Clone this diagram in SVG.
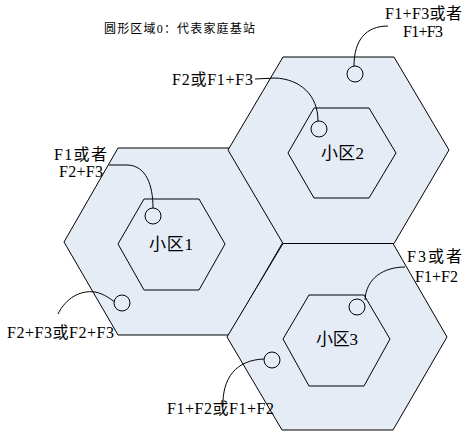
<svg xmlns="http://www.w3.org/2000/svg" width="463" height="432" viewBox="0 0 463 432">
<style>
.hex{fill:#E6ECF6;stroke:#000;stroke-width:1}
.inner{fill:#E6ECF6;stroke:#000;stroke-width:1}
.dot{fill:#E6ECF6;stroke:#000;stroke-width:1}
.con{fill:none;stroke:#000;stroke-width:1}
text{font-family:"Liberation Serif","Noto Sans CJK SC",serif;font-size:16px;fill:#000}
.title{font-size:12px}
.cell{font-size:17px}
</style>
<rect width="463" height="432" fill="#fff"/>
<g id="cell1">
<polygon class="hex" points="118,148 229,148 283,242 229,335 118,335 64,242"/>
<polygon class="inner" points="144,199 199,199 225,244 199,290 144,290 118,244"/>
<text x="149" y="250" textLength="44" class="cell">小区1</text>
</g>
<g id="cell2">
<polygon class="hex" points="283,57 394,57 449,150 394,243.5 283,243.5 228,150"/>
<polygon class="inner" points="314,108 369,108 396,153 369,198 314,198 288,153"/>
<text x="321" y="159" textLength="43" class="cell">小区2</text>
</g>
<g id="cell3">
<polygon class="hex" points="283,243.5 393,243.5 447,337 393,430 282,430 227,337"/>
<polygon class="inner" points="309,295 364,295 390,339 364,386 309,386 283,339"/>
<text x="316" y="345" textLength="42" class="cell">小区3</text>
</g>
<g id="connectors">
<path class="con" d="M109,165 L128,165 C146,166 153,185 153,208"/>
<path class="con" d="M58,314 C66,298 80,290 95,292 C105,294 110,299 115,302"/>
<path class="con" d="M255,79 L275,78 C300,79 318,95 318,121"/>
<path class="con" d="M388,26 C366,26 354,40 354,66"/>
<path class="con" d="M405,267 C384,267 366,278 365,300"/>
<path class="con" d="M223,407 C222,378 236,360 264,359"/>
</g>
<g id="dots">
<circle class="dot" cx="153" cy="216" r="8"/>
<circle class="dot" cx="122" cy="303" r="8"/>
<circle class="dot" cx="319" cy="129" r="8"/>
<circle class="dot" cx="355" cy="74" r="8"/>
<circle class="dot" cx="357" cy="307" r="8"/>
<circle class="dot" cx="272" cy="360" r="8"/>
</g>
<g id="labels">
<text x="104" y="33" textLength="151" class="title">圆形区域0：代表家庭基站</text>
<text x="385" y="19" textLength="77">F1+F3或者</text>
<text x="403" y="37" textLength="40">F1+F3</text>
<text x="172" y="85" textLength="81">F2或F1+F3</text>
<text x="54" y="160" textLength="53">F1或者</text>
<text x="59" y="177" textLength="44">F2+F3</text>
<text x="7" y="338" textLength="107">F2+F3或F2+F3</text>
<text x="407" y="262" textLength="55">F3或者</text>
<text x="415" y="282" textLength="43">F1+F2</text>
<text x="167" y="414" textLength="107">F1+F2或F1+F2</text>
</g>
</svg>
